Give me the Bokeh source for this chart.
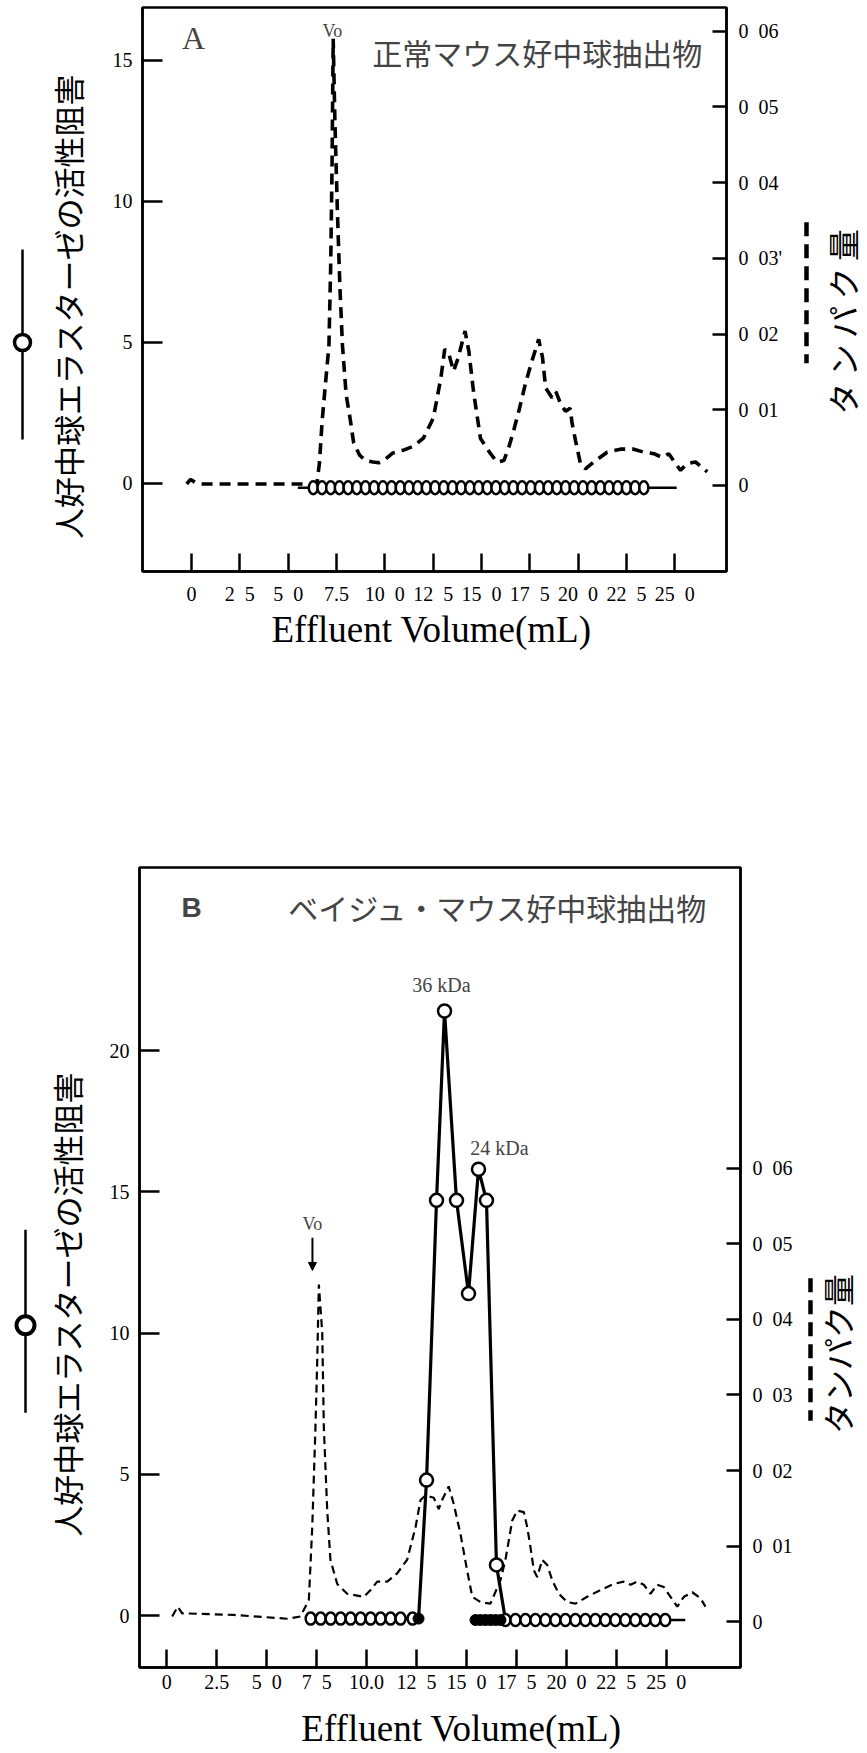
import math
from bokeh.plotting import figure
from bokeh.models import Range1d, LinearAxis, FixedTicker, Label, Arrow, NormalHead
from bokeh.layouts import column, row
from bokeh.embed import file_html
from bokeh.resources import INLINE
from bokeh.core.properties import value

SERIF = "Liberation Serif"
CJK = "Noto Sans CJK JP"
SP = "\u2002"

# ---------------- data: panel A ----------------
a_prot_x = [-0.25, -0.05, 0.2, 0.6, 3.0, 6.3, 6.5, 6.62, 6.76, 6.95, 7.11, 7.2, 7.27, 7.33, 7.42,
            7.55, 7.68, 7.81, 8.0, 8.22, 8.39, 8.7, 9.0, 9.4, 9.69, 9.95, 10.42, 11.0, 11.5, 12.01,
            12.51, 12.9, 13.1, 13.3, 13.56, 13.8, 14.15, 14.35, 14.59, 14.95, 15.47, 15.81, 16.16,
            16.42, 16.67, 16.95, 17.26, 17.56, 17.96, 18.16, 18.32, 18.65, 18.85, 19.11, 19.35,
            19.59, 19.69, 19.87, 20.12, 20.38, 20.81, 21.5, 22.19, 22.88, 23.4, 23.92, 24.35,
            24.69, 25.04, 25.3, 25.64, 26.07, 26.42, 26.68]
a_prot_y = [0.0002, 0.0008, 0.0004, 0.0002, 0.0002, 0.0002, 0.0005, 0.0030, 0.0086, 0.0140,
            0.0185, 0.0290, 0.0420, 0.0590, 0.0480, 0.0360, 0.0260, 0.0185, 0.0120, 0.0086,
            0.0056, 0.0040, 0.0033, 0.0031, 0.0030, 0.0033, 0.0043, 0.0047, 0.0052, 0.0063,
            0.0089, 0.0142, 0.0180, 0.0175, 0.0151, 0.0169, 0.0204, 0.0177, 0.0124, 0.0062,
            0.0042, 0.0031, 0.0033, 0.0051, 0.0073, 0.0100, 0.0133, 0.0160, 0.0193, 0.0169,
            0.0129, 0.0116, 0.0124, 0.0107, 0.0098, 0.0102, 0.0082, 0.0059, 0.0029, 0.0022,
            0.0031, 0.0044, 0.0048, 0.0048, 0.0044, 0.0042, 0.0037, 0.0042, 0.0029, 0.0020,
            0.0029, 0.0031, 0.0024, 0.0018]
a_act_line_x = [5.5, 25.1]
a_act_line_y = [-0.15, -0.15]
a_act_x = [6.3, 6.75, 7.2, 7.65, 8.1, 8.55, 9.0, 9.45, 9.9, 10.35, 10.8, 11.25, 11.7, 12.15,
           12.6, 13.05, 13.5, 13.95, 14.4, 14.85, 15.3, 15.75, 16.2, 16.65, 17.1, 17.55, 18.0,
           18.45, 18.9, 19.35, 19.8, 20.25, 20.7, 21.15, 21.6, 22.05, 22.5, 22.95, 23.4]
a_act_y = [-0.15] * len(a_act_x)

# ---------------- data: panel B ----------------
b_prot_x = [0.27, 0.55, 0.77, 1.02, 3.34, 6.03, 6.69, 7.11, 7.28, 7.44, 7.53, 7.61, 7.78, 7.86,
            8.03, 8.19, 8.53, 9.03, 9.86, 10.20, 10.53, 11.03, 11.53, 12.03, 12.45, 12.70, 12.95,
            13.36, 13.61, 13.78, 14.11, 14.36, 14.70, 15.03, 15.29, 15.70, 16.20, 16.70, 16.95,
            17.12, 17.29, 17.54, 17.87, 18.04, 18.20, 18.37, 18.54, 18.79, 19.04, 19.29, 19.62,
            20.04, 20.46, 21.04, 21.71, 22.37, 22.87, 23.21, 23.54, 23.87, 24.21, 24.54, 24.87,
            25.21, 25.55, 25.88, 26.30, 26.71, 26.96]
b_prot_y = [0.0007, 0.0020, 0.0011, 0.0011, 0.0009, 0.0004, 0.0007, 0.0029, 0.0125, 0.0257,
            0.0345, 0.0446, 0.0382, 0.0257, 0.0147, 0.0082, 0.0050, 0.0037, 0.0033, 0.0042,
            0.0053, 0.0053, 0.0064, 0.0082, 0.0125, 0.0161, 0.0167, 0.0164, 0.0149, 0.0161,
            0.0179, 0.0156, 0.0116, 0.0068, 0.0033, 0.0026, 0.0024, 0.0055, 0.0082, 0.0108,
            0.0134, 0.0147, 0.0145, 0.0125, 0.0099, 0.0068, 0.0059, 0.0082, 0.0075, 0.0055,
            0.0037, 0.0026, 0.0024, 0.0033, 0.0042, 0.0050, 0.0053, 0.0049, 0.0053, 0.0049,
            0.0037, 0.0049, 0.0046, 0.0033, 0.0020, 0.0033, 0.0039, 0.0031, 0.0020]

b_row1_x = [7.2, 7.7, 8.2, 8.7, 9.2, 9.7, 10.2, 10.7, 11.2, 11.7, 12.3]
b_row1_y = [-0.1] * len(b_row1_x)
b_peak_x = [13.0, 13.5, 13.9, 14.5, 15.1, 15.6, 16.0, 16.5]
b_peak_y = [4.8, 14.7, 21.4, 14.7, 11.4, 15.8, 14.7, 1.8]
b_fill_x = [12.6, 15.45, 15.7, 15.95, 16.2, 16.45, 16.7]
b_fill_y = [-0.1, -0.15, -0.15, -0.15, -0.15, -0.15, -0.15]
b_row2_x = [16.95, 17.45, 17.95, 18.45, 18.95, 19.45, 19.95, 20.45, 20.95, 21.45, 21.95, 22.45,
            22.95, 23.45, 23.95, 24.45, 24.95]
b_row2_y = [-0.15] * len(b_row2_x)
b_line1_x = [7.0] + b_row1_x + [12.6] + b_peak_x + [16.95]
b_line1_y = [-0.1] + b_row1_y + [-0.1] + b_peak_y + [-0.15]
b_line2_x = [15.3, 25.95]
b_line2_y = [-0.15, -0.15]

x_ticks = [0, 2.5, 5, 7.5, 10, 12.5, 15, 17.5, 20, 22.5, 25]
x_tick_labels_a = ["0", "2 5", "5 0", "7.5", "10 0", "12 5", "15 0", "17 5", "20 0", "22 5", "25 0"]
x_tick_labels_b = ["0", "2.5", "5 0", "7 5", "10.0", "12 5", "15 0", "17 5", "20 0", "22 5", "25 0"]
prot_ticks = [0, 0.01, 0.02, 0.03, 0.04, 0.05, 0.06]
prot_labels_a = ["0", "0 01", "0 02", "0 03'", "0 04", "0 05", "0 06"]
prot_labels_b = ["0", "0 01", "0 02", "0 03", "0 04", "0 05", "0 06"]
act_ticks_a = [0, 5, 10, 15]
act_ticks_b = [0, 5, 10, 15, 20]

title_a = "正常マウス好中球抽出物"
title_b = "ベイジュ・マウス好中球抽出物"
ylab_left = "人好中球エラスターゼの活性阻害"
ylab_right = "タンパク量"
xlab = "Effluent Volume(mL)"

# ranges (x, left activity axis, right protein axis)
xr_a, yr_a, pr_a = (-2.535, 27.677), (-3.121, 16.879), (-0.01136, 0.06314)
xr_b, yr_b, pr_b = (-1.366, 28.714), (-1.831, 26.479), (-0.00605, 0.09974)


def spaced(s):
    # the scan shows wide gaps inside the tick labels
    return s.replace(" ", SP)


def style_axis(ax, tick_in, standoff):
    ax.major_tick_in = tick_in
    ax.major_tick_out = 0
    ax.minor_tick_line_color = None
    ax.major_tick_line_width = 2.5
    ax.major_tick_line_color = "black"
    ax.axis_line_width = 2.5
    ax.axis_line_color = "black"
    ax.major_label_text_font = SERIF
    ax.major_label_text_font_size = "20px"
    ax.major_label_text_color = "black"
    ax.major_label_standoff = standoff


def make_panel(height, mb_top, mb_bottom, mb_left, mb_right, xr, yr, pr,
               act_ticks, xlabels, plabels, x_standoff, xlab_center, xlab_standoff):
    p = figure(width=700, height=height, output_backend="svg", toolbar_location=None,
               x_range=Range1d(*xr), y_range=Range1d(*yr),
               min_border_top=mb_top, min_border_bottom=mb_bottom,
               min_border_left=mb_left, min_border_right=mb_right)
    p.extra_y_ranges = {"prot": Range1d(*pr)}
    p.xgrid.visible = False
    p.ygrid.visible = False
    p.outline_line_color = "black"
    p.outline_line_width = 2.5
    p.xaxis.ticker = FixedTicker(ticks=x_ticks)
    p.xaxis.major_label_overrides = {t: spaced(l) for t, l in zip(x_ticks, xlabels)}
    style_axis(p.xaxis[0], 18, x_standoff)
    p.yaxis.ticker = FixedTicker(ticks=act_ticks)
    style_axis(p.yaxis[0], 20, 10)
    rax = LinearAxis(y_range_name="prot", ticker=FixedTicker(ticks=prot_ticks),
                     major_label_overrides={t: spaced(l) for t, l in zip(prot_ticks, plabels)})
    style_axis(rax, 14, 12)
    p.add_layout(rax, "right")
    # axis title as a second bottom axis with one labelled tick
    tax = LinearAxis(ticker=FixedTicker(ticks=[xlab_center]),
                     major_label_overrides={xlab_center: xlab})
    tax.major_tick_in = 0
    tax.major_tick_out = 0
    tax.minor_tick_line_color = None
    tax.axis_line_color = None
    tax.major_tick_line_color = None
    tax.major_label_text_font = SERIF
    tax.major_label_text_font_size = "37px"
    tax.major_label_text_color = "black"
    tax.major_label_standoff = xlab_standoff
    p.add_layout(tax, "below")
    return p


def side_panel(width, height, xr, yr):
    # its frame is aligned with the neighbouring panel's frame inside the row,
    # so it shares that panel's activity range; x is in page pixels
    s = figure(width=width, height=height, output_backend="svg", toolbar_location=None,
               x_range=Range1d(*xr), y_range=Range1d(*yr),
               x_axis_location=None, y_axis_location=None,
               min_border_top=0, min_border_bottom=0, min_border_left=0, min_border_right=0)
    s.outline_line_color = None
    s.xgrid.visible = False
    s.ygrid.visible = False
    return s


# ---------------- panel A ----------------
pa = make_panel(853, 7, 282, 42, 74, xr_a, yr_a, pr_a,
                act_ticks_a, x_tick_labels_a, prot_labels_a, 11, 12.42, 1)
pa.line(a_prot_x, a_prot_y, y_range_name="prot", line_color="black", line_width=3.6,
        line_dash="11 7")
pa.line(a_act_line_x, a_act_line_y, line_color="black", line_width=2.5)
pa.ellipse(a_act_x, a_act_y, width=9, height=13, width_units="screen", height_units="screen",
           fill_color="white", line_color="black", line_width=2.5)
pa.add_layout(Label(x=0.10, y=15.78, text="A", text_font=SERIF, text_font_size="32px",
                    text_align="center", text_baseline="middle"))
pa.add_layout(Label(x=7.29, y=16.03, text="Vo", text_font=SERIF, text_font_size="18px",
                    text_align="center", text_baseline="middle"))
pa.add_layout(Label(x=9.35, y=15.3, text=title_a, text_font=CJK, text_font_size="30px",
                    text_align="left", text_baseline="middle"))

la = side_panel(100, 853, (0, 100), yr_a)
la.text(x=[67], y=[6.28], text=[ylab_left], angle=math.pi / 2, text_font=value(CJK),
        text_font_size="31px", text_align="center", text_baseline="middle", text_color="black")
la.line(x=[22, 22], y=[8.30, 1.56], line_color="black", line_width=2.5)
la.scatter(x=[22], y=[5.0], size=16, marker="circle", fill_color="white", line_color="black",
           line_width=3.5)
ra = side_panel(67, 853, (800, 867), yr_a)
ra.text(x=[841], y=[5.73], text=[ylab_right.replace("", "\u2009").strip("\u2009")],
        angle=math.pi / 2, text_font=value(CJK), text_font_size="32px",
        text_align="center", text_baseline="middle", text_color="black")
ra.line(x=[806, 806], y=[9.26, 4.26], line_color="black", line_width=4.5, line_dash="14 8")

# ---------------- panel B ----------------
pb = make_panel(898, 14, 80, 39, 60, xr_b, yr_b, pr_b,
                act_ticks_b, x_tick_labels_b, prot_labels_b, 3, 14.75, 12)
pb.line(b_prot_x, b_prot_y, y_range_name="prot", line_color="black", line_width=2.2,
        line_dash="8 5")
pb.line(b_line1_x, b_line1_y, line_color="black", line_width=3.2)
pb.line(b_line2_x, b_line2_y, line_color="black", line_width=2.5)
pb.ellipse(b_row1_x, b_row1_y, width=10, height=12, width_units="screen", height_units="screen",
           fill_color="white", line_color="black", line_width=2.5)
pb.ellipse(b_row2_x, b_row2_y, width=10, height=12, width_units="screen", height_units="screen",
           fill_color="white", line_color="black", line_width=2.5)
pb.scatter(b_fill_x, b_fill_y, size=11, marker="circle", fill_color="black", line_color="black")
pb.scatter(b_peak_x, b_peak_y, size=13, marker="circle", fill_color="white", line_color="black",
           line_width=2.5)
pb.add_layout(Label(x=1.24, y=25.07, text="B", text_font="Liberation Sans",
                    text_font_style="bold", text_font_size="28px",
                    text_align="center", text_baseline="middle"))
pb.add_layout(Label(x=6.08, y=25.07, text=title_b, text_font=CJK, text_font_size="30px",
                    text_align="left", text_baseline="middle"))
pb.add_layout(Label(x=13.75, y=22.32, text="36 kDa", text_font=SERIF, text_font_size="20px",
                    text_align="center", text_baseline="middle"))
pb.add_layout(Label(x=16.65, y=16.55, text="24 kDa", text_font=SERIF, text_font_size="20px",
                    text_align="center", text_baseline="middle"))
pb.add_layout(Label(x=7.29, y=13.87, text="Vo", text_font=SERIF, text_font_size="18px",
                    text_align="center", text_baseline="middle"))
pb.add_layout(Arrow(x_start=7.29, y_start=13.38, x_end=7.29, y_end=12.22,
                    end=NormalHead(size=8, fill_color="black", line_color="black"),
                    line_width=2, line_color="black"))

lb = side_panel(100, 898, (0, 100), yr_b)
lb.text(x=[66], y=[11.02], text=[ylab_left], angle=math.pi / 2, text_font=value(CJK),
        text_font_size="31px", text_align="center", text_baseline="middle", text_color="black")
lb.line(x=[25, 25], y=[13.66, 7.18], line_color="black", line_width=2.5)
lb.scatter(x=[25], y=[10.28], size=18, marker="circle", fill_color="white", line_color="black",
           line_width=4)
rb = side_panel(67, 898, (800, 867), yr_b)
rb.text(x=[836], y=[9.26], text=[ylab_right], angle=math.pi / 2, text_font=value(CJK),
        text_font_size="32px", text_align="center", text_baseline="middle", text_color="black")
rb.line(x=[810, 810], y=[11.94, 6.90], line_color="black", line_width=4.5, line_dash="14 8")

layout = column(row(la, pa, ra, spacing=0), row(lb, pb, rb, spacing=0), spacing=0)
open("out.html", "w").write(file_html(layout, INLINE))
